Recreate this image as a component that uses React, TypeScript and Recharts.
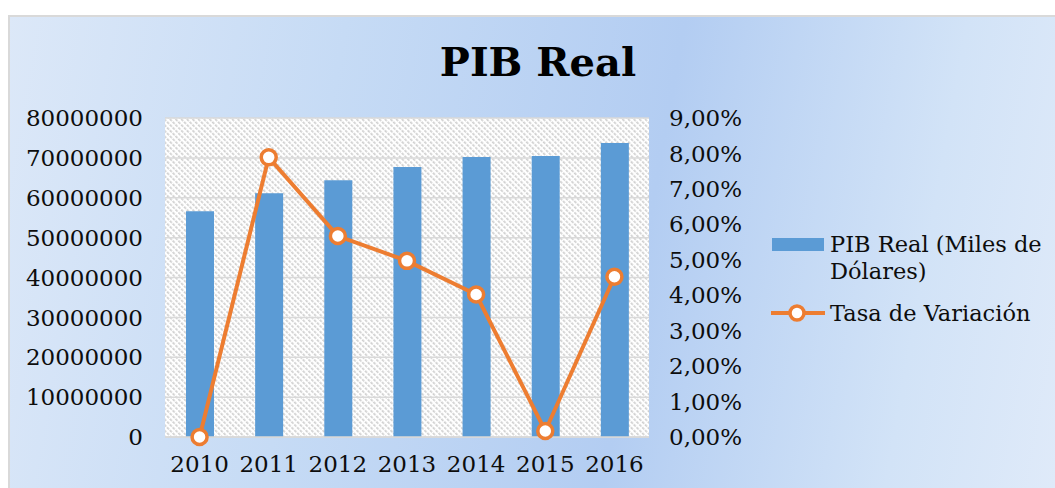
import React from 'react';
import { ComposedChart, Bar, Line, XAxis, YAxis, CartesianGrid } from 'recharts';

const years = ['2010', '2011', '2012', '2013', '2014', '2015', '2016'];
const pibReal = [56600000, 61100000, 64400000, 67700000, 70250000, 70500000, 73700000];
const tasaVariacion = [0, 0.0789, 0.0567, 0.0497, 0.0402, 0.0017, 0.0452];
const leftTicks = [0, 10000000, 20000000, 30000000, 40000000, 50000000, 60000000, 70000000, 80000000];
const rightTicks = [0, 0.01, 0.02, 0.03, 0.04, 0.05, 0.06, 0.07, 0.08, 0.09];
const seriesNames = ['PIB Real (Miles de Dólares)', 'Tasa de Variación'];
const title = 'PIB Real';

const data = years.map((y, i) => ({ year: y, pib: pibReal[i], tasa: tasaVariacion[i] }));

const FONT = '"DejaVu Serif", serif';
const BLUE = '#5b9bd5';
const ORANGE = '#ed7d31';

const fmtPct = (v: number) => (v * 100).toFixed(2).replace('.', ',') + '%';

export default function App() {
  const tickStyle = { fontFamily: FONT, fontSize: 23, fill: '#0d0d0d' };
  return (
    <div>
      <style>{`html,body{margin:0;overflow:hidden;}`}</style>
      <div
        style={{
          position: 'absolute',
          left: 8,
          top: 15,
          width: 1047,
          height: 473,
          background: 'linear-gradient(100deg, #dce8f8 0%, #c6dbf5 30%, #b3cdf2 60%, #d2e3f7 85%, #dfeaf9 100%)',
          boxShadow: 'inset 2px 2px 0 #d9d9d9',
        }}
      >
        <div
          style={{
            position: 'absolute',
            left: 330,
            width: 400,
            top: 23,
            textAlign: 'center',
            fontFamily: FONT,
            fontWeight: 'bold',
            fontSize: 40,
            lineHeight: 'normal',
            color: '#000',
          }}
        >
          {title}
        </div>
        <div style={{ position: 'absolute', left: 0, top: 0 }}>
          <ComposedChart
            width={1047}
            height={473}
            data={data}
            margin={{ top: 103, right: 0, bottom: 0, left: 0 }}
          >
            <defs>
              <pattern id="hatch" width="4" height="4" patternUnits="userSpaceOnUse" patternTransform="rotate(-45)">
                <rect x="0" y="0" width="4" height="4" fill="#ffffff" />
                <rect x="0" y="0" width="1.7" height="2.8" fill="#cfcfcf" />
              </pattern>
            </defs>
            <CartesianGrid
              yAxisId="left"
              vertical={false}
              stroke="#d9d9d9"
              strokeWidth={1.5}
              fill="url(#hatch)"
              fillOpacity={1}
            />
            <XAxis
              dataKey="year"
              height={51}
              tickLine={false}
              tickSize={0}
              tickMargin={19}
              axisLine={{ stroke: '#d9d9d9', strokeWidth: 1.5 }}
              tick={tickStyle}
              interval={0}
            />
            <YAxis
              yAxisId="left"
              orientation="left"
              width={157}
              domain={[0, 80000000]}
              ticks={leftTicks}
              interval={0}
              axisLine={false}
              tickLine={false}
              tickSize={0}
              tickMargin={22}
              tick={tickStyle}
            />
            <YAxis
              yAxisId="right"
              orientation="right"
              width={406}
              domain={[0, 0.09]}
              ticks={rightTicks}
              interval={0}
              axisLine={false}
              tickLine={false}
              tickSize={0}
              tickMargin={20}
              tick={tickStyle}
              tickFormatter={fmtPct}
            />
            <Bar yAxisId="left" dataKey="pib" name={seriesNames[0]} fill={BLUE} barSize={28} isAnimationActive={false} />
            <Line
              yAxisId="right"
              dataKey="tasa"
              name={seriesNames[1]}
              stroke={ORANGE}
              strokeWidth={4}
              dot={{ r: 7.5, fill: '#ffffff', stroke: ORANGE, strokeWidth: 3.5 }}
              activeDot={false}
              isAnimationActive={false}
            />
          </ComposedChart>
        </div>
        {/* Legend */}
        <div style={{ position: 'absolute', left: 764, top: 223, width: 52, height: 13, background: BLUE }} />
        <div
          style={{
            position: 'absolute',
            left: 822,
            top: 216,
            width: 222,
            fontFamily: FONT,
            fontSize: 22.5,
            lineHeight: '27px',
            color: '#0d0d0d',
          }}
        >
          {seriesNames[0]}
        </div>
        <svg style={{ position: 'absolute', left: 760, top: 286 }} width={60} height={24}>
          <line x1={3} y1={12} x2={57} y2={12} stroke={ORANGE} strokeWidth={4} />
          <circle cx={29} cy={12} r={7} fill="#ffffff" stroke={ORANGE} strokeWidth={3.5} />
        </svg>
        <div
          style={{
            position: 'absolute',
            left: 822,
            top: 284.5,
            fontFamily: FONT,
            fontSize: 22.5,
            lineHeight: '27px',
            color: '#0d0d0d',
            whiteSpace: 'nowrap',
          }}
        >
          {seriesNames[1]}
        </div>
      </div>
    </div>
  );
}
